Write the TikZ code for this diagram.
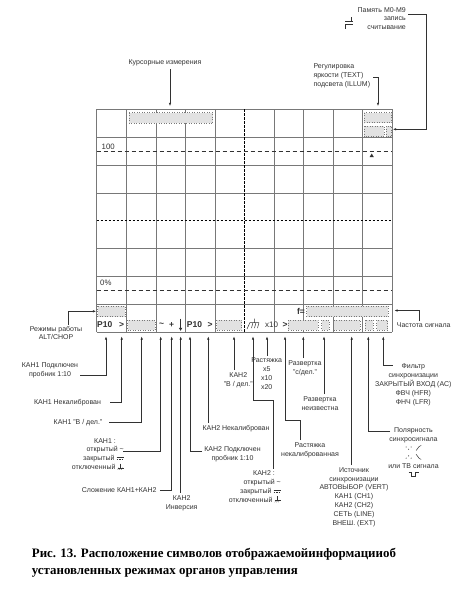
\documentclass[tikz,border=0pt]{standalone}
\usepackage{fontspec}
\setmainfont{Liberation Sans}
\newfontfamily\capfont{Liberation Serif}
\usepackage{tikz}
\usetikzlibrary{arrows.meta,positioning,calc}
\definecolor{gridgray}{RGB}{120,120,120}
\definecolor{boxgray}{RGB}{226,226,226}
\definecolor{inkgray}{RGB}{50,50,50}
\tikzset{
  lbl/.style={font=\fontsize{7}{8.9}\selectfont,inner sep=0pt,align=center,text=inkgray},
  ptr/.style={draw=inkgray,line width=0.45pt,-{Latex[length=3.2pt,width=2.4pt]}},
  sbox/.style={draw=gridgray,dotted,fill=boxgray,line width=0.5pt},
  stxt/.style={font=\fontsize{8.5}{8.5}\selectfont\bfseries,inner sep=0pt,text=inkgray},
  gline/.style={gridgray,line width=0.5pt},
}
\newcommand{\acsym}{\textasciitilde}
\newcommand{\dcsym}{\tikz[x=1pt,y=1pt,baseline=0pt]{\draw[line width=.4pt] (0,3.6)--(7,3.6);
  \draw[line width=.4pt,dash pattern=on 1.5pt off 1pt] (0,1.6)--(7,1.6);}}
\newcommand{\gndsym}{\tikz[x=1pt,y=1pt,baseline=0pt]{\draw[line width=.4pt] (3,6)--(3,2) (0,2)--(6,2);
  \draw[line width=.3pt] (1.2,2)--(0.2,0) (3,2)--(2,0) (4.8,2)--(3.8,0);}}
\newcommand{\polpos}{\tikz[x=1pt,y=1pt,baseline=0pt]{\fill (0,3.5) circle (.55) (2.5,1.2) circle (.55) (5,3.5) circle (.55);
  \draw[line width=.5pt] (10,0)--(13,4)--(15,5);}}
\newcommand{\polneg}{\tikz[x=1pt,y=1pt,baseline=0pt]{\fill (0,1.2) circle (.55) (2.5,3.5) circle (.55) (5,1.2) circle (.55);
  \draw[line width=.5pt] (10,5)--(13,1)--(15,0);}}
\newcommand{\tvsym}{\tikz[x=1pt,y=1pt,baseline=0pt]{\draw[line width=.8pt] (0,5)--(3,5)--(3,0.4)--(7,0.4)--(7,5)--(10,5);}}

\begin{document}
\begin{tikzpicture}[x=1pt,y=-1pt]
  \fill[white] (0,0) rectangle (462,589);
  \useasboundingbox (0,0) rectangle (462,589);
  % screen grid
  \foreach \i in {0,...,4,6,7,8,9,10}
    \draw[gline] ({96.7+29.56*\i},109.3) -- ({96.7+29.56*\i},332);
  \foreach \j in {0,...,3,5,6,7,8}
    \draw[gline] (96.7,{109.3+27.84*\j}) -- (392.3,{109.3+27.84*\j});
  \draw[black,line width=1.1pt,dash pattern=on 2.5pt off 1.5pt] (244.5,109.3) -- (244.5,332);
  \draw[black,line width=1.1pt,dash pattern=on 2.5pt off 1.5pt] (96.7,220.7) -- (392.3,220.7);
  \draw[inkgray,line width=.6pt,dash pattern=on 4pt off 3pt] (96.7,151.7) -- (392.3,151.7);
  \draw[inkgray,line width=.6pt,dash pattern=on 4pt off 3pt] (96.7,290) -- (392.3,290);
  \node[lbl,font=\fontsize{7.8}{8}\selectfont,anchor=west] (hund) at (101.5,146.7) {100};
  \node[lbl,font=\fontsize{7.8}{8}\selectfont,anchor=west] (zero) at (100,282.7) {0\%};
  \fill[inkgray] (369.6,157) -- (373.8,157) -- (371.7,153.6) -- cycle;
  % status boxes
  \foreach \xa/\ya/\xb/\yb in {129.3/112.7/212.7/123.3, 364/112.7/391.5/122.7, 364/126/384/136.7,
      386/126/391.5/136.7, 97.5/306/125/316.5, 306.7/305.8/388.3/316.5, 127.7/320/155/330,
      216.7/320/241.7/330, 288.3/320/318.3/330, 321.7/320/329/330, 333.5/320/360/330,
      365/320/373.3/330, 376.5/320/387.5/330}
    \draw[sbox] (\xa,\ya) rectangle (\xb,\yb);
  % status texts
  \node[stxt,anchor=west] (p1) at (97,325) {P10};
  \node[stxt] (g1) at (121.7,325) {>};
  \node[stxt] (ac) at (161.7,325) {\textasciitilde};
  \node[stxt] (add) at (171.7,325) {+};
  \draw[inkgray,line width=1.4pt,-{Latex[length=3.2pt,width=3.8pt]}] (180.6,318.5) -- (180.6,331);
  \node[stxt,anchor=west] (p2) at (186.7,325) {P10};
  \node[stxt] (g2) at (210,325) {>};
  \draw[inkgray,line width=.5pt] (247,329) -- (250,322.5) -- (259,322.5) (254.5,318.5) -- (254.5,322.5)
    (253,322.5) -- (251.5,328) (256,322.5) -- (254.5,328) (259,322.5) -- (257.5,328);
  \node[stxt,font=\fontsize{8}{8}\selectfont] (mag) at (271.6,325) {x10};
  \node[stxt] (g3) at (285,325) {>};
  \node[stxt] (feq) at (301,311) {f=};
  % memory glyph
  \draw[inkgray,line width=1.2pt] (345,21.5) -- (352.5,21.5) (351.8,21.5) -- (351.8,17.3)
    (345,24.5) -- (352.5,24.5) (345.7,24.5) -- (345.7,28.7);

  % targets
  \foreach \n/\x in {t1/106,t2/121.7,t3/141.7,t4/160.7,t5/171.7,t6/180.7,t7/190,t8/208.3,t9/234,
      t10/253,t11/267,t12/285,t13/303.3,t14/324,t15/351.7,t16/368.3,t17/383.3}
    \coordinate (\n) at (\x,336.5);
  \coordinate (tcur) at (170,106);
  \coordinate (till) at (378,106);
  \coordinate (tmem) at (393,129.3);
  \coordinate (bmem) at (426.7,129.3);
  \coordinate (talt) at (96,311.3);
  \coordinate (tfreq) at (394.5,310.5);
  \coordinate (bk2c) at (273,400);
  \coordinate (bstu) at (300,420);

  % labels above
  \node[lbl,align=right,anchor=east] (mem) at (406,18.5) {Память М0-М9\\запись\\считывание};
  \node[lbl] (curs) at (165,63.3) {Курсорные измерения};
  \node[lbl,align=left,anchor=west] (illum) at (313.3,75.7) {Регулировка\\яркости (TEXT)\\подсвета (ILLUM)};
  \draw[ptr] ([xshift=2pt,yshift=4.5pt]mem.east) -| (bmem) -- (tmem);
  \draw[ptr] ([yshift=-2.5pt]curs.south -| tcur) -- (tcur);
  \draw[ptr] ([xshift=3pt,yshift=-1.5pt]illum.east) -| (till);

  % labels left
  \node[lbl] (alt) at (56,333) {Режимы работы\\ALT/CHOP};
  \node[lbl] (k1p) at (50,370) {КАН1 Подключен\\пробник 1:10};
  \node[lbl] (k1u) at (67.5,402.5) {КАН1 Некалиброван};
  \node[lbl] (k1v) at (78,422.5) {КАН1 "В / дел."};
  \node[lbl,align=right,anchor=north east] (k1c) at (124,438) {КАН1 :\makebox[8pt]{}\\открытый \acsym\\закрытый \dcsym\\отключенный \gndsym};
  \node[lbl] (sum) at (119.2,490.5) {Сложение КАН1+КАН2};
  \node[lbl] (k2i) at (181.7,503) {КАН2\\Инверсия};
  \node[lbl] (k2p) at (232.5,454) {КАН2 Подключен\\пробник 1:10};
  \node[lbl] (k2u) at (236,429) {КАН2 Некалиброван};
  \node[lbl] (k2v) at (238.3,380.5) {КАН2\\"В / дел."};
  \node[lbl,align=right,anchor=north east] (k2c) at (281,470.5) {КАН2 :\makebox[6pt]{}\\открытый \acsym\\закрытый \dcsym\\отключенный \gndsym};
  \draw[ptr] ([xshift=12.3pt,yshift=1pt]alt.north) |- (talt);
  \draw[ptr] ([xshift=2pt,yshift=-5pt]k1p.east) -| (t1);
  \draw[ptr] ([xshift=9pt]k1u.east) -| (t2);
  \draw[ptr] ([xshift=7pt]k1v.east) -| (t3);
  \draw[ptr] ([xshift=-1pt,yshift=3pt]k1c.east) -| (t4);
  \draw[ptr] ([xshift=3pt]sum.east) -| (t5);
  \draw[ptr] ([yshift=2.5pt]k2i.north -| t6) -- (t6);
  \draw[ptr] ([xshift=-2pt,yshift=3pt]k2p.west) -| (t7);
  \draw[ptr] ([yshift=3pt]k2u.north -| t8) -- (t8);
  \draw[ptr] ([yshift=3pt]k2v.north -| t9) -- (t9);
  \draw[ptr] ([yshift=2pt]k2c.north -| bk2c) -- (bk2c) -| (t10);

  % labels right
  \node[lbl] (str) at (266.7,373.5) {Растяжка\\x5\\x10\\x20};
  \node[lbl] (stu) at (310,450) {Растяжка\\некалиброванная};
  \node[lbl] (swp) at (305,368) {Развертка\\"с/дел."};
  \node[lbl] (swu) at (320,403.3) {Развертка\\неизвестна};
  \node[lbl] (src) at (354,497.2) {Источник\\синхронизации\\АВТОВЫБОР (VERT)\\КАН1 (CH1)\\КАН2 (CH2)\\СЕТЬ (LINE)\\ВНЕШ. (EXT)};
  \node[lbl] (pol) at (413.5,452.5) {Полярность\\синхросигнала\\\polpos\\\polneg\\или ТВ сигнала\\\tvsym};
  \node[lbl] (flt) at (413.3,385) {Фильтр\\синхронизации\\ЗАКРЫТЫЙ ВХОД (АС)\\ФВЧ (HFR)\\ФНЧ (LFR)};
  \node[lbl,anchor=west] (freq) at (396.7,325) {Частота сигнала};
  \draw[ptr] ([yshift=2pt]str.north -| t11) -- (t11);
  \draw[ptr] ([yshift=2pt]stu.north -| bstu) -- (bstu) -| (t12);
  \draw[ptr] ([yshift=2pt]swp.north -| t13) -- (t13);
  \draw[ptr] ([yshift=2pt]swu.north -| t14) -- (t14);
  \draw[ptr] ([yshift=2pt]src.north -| t15) -- (t15);
  \draw[ptr] ([xshift=2pt,yshift=20.8pt]pol.west) -| (t16);
  \draw[ptr] ([xshift=18pt,yshift=20pt]flt.west) -| (t17);
  \draw[ptr] ([xshift=-4.5pt,yshift=1pt]freq.north) |- (tfreq);

  % caption
  \node[anchor=north west,align=left,inner sep=0pt,font=\capfont\bfseries\fontsize{12.9}{17}\selectfont] (cap) at (31.7,548.5)
    {Рис. 13. Расположение символов отображаемойинформацииоб\\установленных режимах органов управления};
\end{tikzpicture}
\end{document}
